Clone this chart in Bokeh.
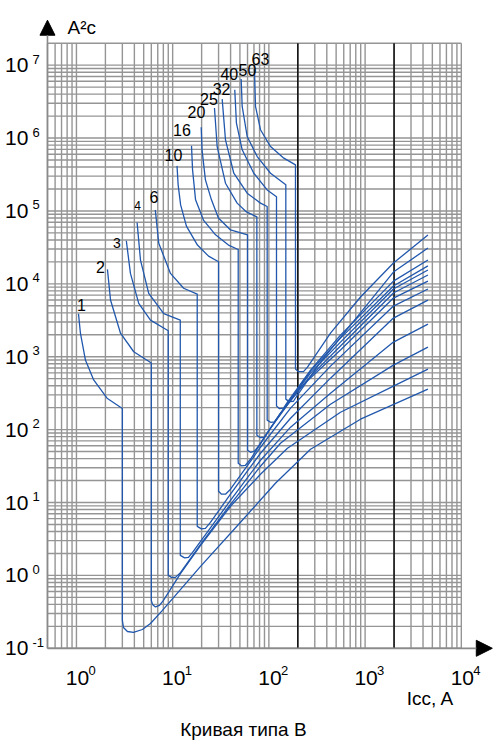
from bokeh.plotting import figure
from bokeh.models import Arrow, NormalHead, ColumnDataSource
from bokeh.core.properties import value
from bokeh.embed import file_html
from bokeh.resources import INLINE

# ---------------- data ----------------
ratings = ["1", "2", "3", "4", "6", "10", "16", "20", "25", "32", "40", "50", "63"]

# Each curve: thermal part (1 h point down to 3xIn), vertical drop, let-through I2t part
i_1 = [1.05, 1.10, 1.24, 1.51, 2.08, 3.0, 3.0, 3.08, 3.39, 3.91, 4.85, 5.88, 7.83, 19.5, 50.7, 117, 271, 896, 4500]
e_1 = [3900, 2100, 900, 480, 270, 195, 0.241, 0.193, 0.170, 0.165, 0.181, 0.219, 0.331, 1.33, 5.35, 18.4, 53.8, 139, 359]

i_2 = [2.1, 2.26, 2.87, 3.94, 6.0, 6.0, 6.17, 6.63, 7.29, 8.02, 12.1, 19.5, 39.9, 81.8, 156, 555, 1970, 4500]
e_2 = [15800, 6000, 2100, 1170, 820, 0.454, 0.400, 0.369, 0.387, 0.454, 1.065, 2.58, 8.87, 24.4, 55.5, 173, 395, 676]

i_3 = [3.3, 3.64, 4.44, 5.88, 9.0, 9.0, 9.72, 10.7, 12.1, 19.5, 39.9, 81.8, 132, 437, 1970, 4500]
e_3 = [39000, 13900, 5400, 3180, 2270, 1.0, 0.939, 0.939, 1.10, 2.67, 9.45, 31.4, 65.0, 223, 767, 1355]

i_4 = [4.27, 4.63, 5.64, 8.08, 12.0, 12.0, 13.3, 14.6, 16.1, 19.5, 39.9, 81.8, 168, 437, 1970, 4500]
e_4 = [69000, 21200, 7400, 3900, 3180, 1.88, 1.74, 1.77, 2.07, 2.93, 10.7, 38.0, 108, 316, 1588, 2805]

i_6 = [6.6, 7.17, 9.49, 13.0, 18.0, 18.0, 19.9, 21.9, 24.7, 39.9, 81.8, 168, 437, 1970, 4500]
e_6 = [103000, 36000, 13900, 8700, 7240, 4.71, 4.35, 4.42, 5.35, 13.0, 47.4, 143, 508, 3390, 5990]

i_10 = [11.1, 11.4, 12.1, 13.9, 18.1, 23.6, 30, 30, 32.2, 35.4, 39.9, 81.8, 168, 437, 1970, 4500]
e_10 = [415000, 228000, 121000, 62000, 34000, 24000, 20100, 14.3, 13.0, 13.0, 15.2, 57.3, 197, 743, 4955, 8490]

i_16 = [15.7, 16.1, 17.3, 20.9, 27.9, 38.0, 48.0, 48.0, 51.9, 57.1, 64.4, 104, 213, 555, 1970, 4500]
e_16 = [781000, 366000, 142000, 75000, 47000, 34000, 29600, 34.5, 31.9, 32.4, 39.2, 105, 382, 1233, 6380, 10900]

i_20 = [19.8, 20.2, 21.9, 25.3, 29.9, 39.9, 60, 60, 64.4, 70.8, 78.0, 132, 271, 555, 1970, 4500]
e_20 = [1410000, 689000, 267000, 142000, 80200, 54800, 46800, 52.1, 48.9, 50.5, 59.2, 168, 541, 1400, 7480, 13200]

i_25 = [27.2, 29.0, 35.4, 46.8, 58.5, 75, 75, 81.8, 90.0, 99.1, 168, 271, 555, 1970, 4500]
e_25 = [2580000, 764000, 240000, 128000, 96900, 82700, 83.8, 77.4, 78.6, 95.1, 262, 595, 1588, 8490, 15500]

i_32 = [32.7, 35.4, 43.2, 59.5, 81.8, 96, 96, 104, 114, 126, 168, 271, 555, 1970, 4500]
e_32 = [3420000, 945000, 329000, 175000, 128000, 115000, 135, 126, 128, 153, 262, 634, 1800, 9330, 17600]

i_40 = [44.2, 46.0, 52.8, 69.7, 96, 120, 120, 129, 142, 156, 271, 555, 1970, 4500]
e_40 = [4590000, 1600000, 689000, 329000, 194000, 157000, 210, 194, 197, 238, 655, 1980, 10900, 21200]

i_50 = [51.5, 52.8, 59.5, 75.6, 104, 150, 150, 162, 180, 198, 344, 705, 1970, 4500]
e_50 = [6440000, 2710000, 1050000, 557000, 329000, 228000, 262, 242, 245, 297, 843, 2718, 14500, 31000]

i_63 = [70.8, 72.6, 81.8, 104, 143, 189, 189, 203, 229, 252, 437, 896, 1970, 4500]
e_63 = [8840000, 2710000, 1300000, 764000, 530000, 428000, 676, 624, 624, 719, 2110, 6590, 19300, 46800]

# curve label anchor points (data units)
label_i = [1.127, 1.776, 2.636, 4.31, 6.39, 10.2, 12.5, 17.7, 23.8, 32.2, 38.8, 59.8, 81.8]
label_e = [5110, 17000, 36300, 117000, 156000, 588000, 1.30e6, 2.25e6, 3.40e6, 4.67e6, 7.62e6, 8.51e6, 1.21e7]

x_ticks = [1, 10, 100, 1000, 10000]
x_exps = ["0", "1", "2", "3", "4"]
y_ticks = [0.1, 1, 10, 100, 1e3, 1e4, 1e5, 1e6, 1e7]
y_exps = ["-1", "0", "1", "2", "3", "4", "5", "6", "7"]
dark_x = [200, 2000]

x_title = "Icc, A"
y_title = "A²c"
chart_title = "Кривая типа B"

# ---------------- styling / layout ----------------
W, H = 495, 742
X_MIN, X_MAX = 0.5, 1e4          # chart area (grid) limits
Y_MIN, Y_MAX = 0.1, 2e7
PX_DEC_X, PX_DEC_Y = 96.26, 72.88
M_LEFT, M_RIGHT, M_TOP, M_BOTTOM = 47, 34.2, 42.7, 94.2

FONT = "Liberation Sans"
GRID = "#959595"
CURVE = "#2158ad"

xr = (X_MIN / 10 ** (M_LEFT / PX_DEC_X), X_MAX * 10 ** (M_RIGHT / PX_DEC_X))
yr = (Y_MIN / 10 ** (M_BOTTOM / PX_DEC_Y), Y_MAX * 10 ** (M_TOP / PX_DEC_Y))

p = figure(width=W, height=H, x_axis_type="log", y_axis_type="log",
           x_range=xr, y_range=yr, output_backend="svg", toolbar_location=None,
           min_border=0, min_border_left=0, min_border_right=0, min_border_top=0, min_border_bottom=0)
p.xaxis.visible = False
p.yaxis.visible = False
p.xgrid.visible = False
p.ygrid.visible = False
p.outline_line_color = None
p.background_fill_color = "white"
p.border_fill_color = "white"

# log grid lines (1..9 per decade) limited to the chart area
gx = [m * 10.0 ** k for k in range(-1, 5) for m in range(1, 10) if X_MIN <= m * 10.0 ** k <= X_MAX * 1.0001]
gy = [m * 10.0 ** k for k in range(-1, 8) for m in range(1, 10) if Y_MIN <= m * 10.0 ** k <= Y_MAX * 1.0001]
p.segment(x0=gx, y0=[Y_MIN] * len(gx), x1=gx, y1=[Y_MAX] * len(gx), line_color=GRID, line_width=1.4)
p.segment(x0=[X_MIN] * len(gy), y0=gy, x1=[X_MAX] * len(gy), y1=gy, line_color=GRID, line_width=1.4)
p.segment(x0=dark_x, y0=[Y_MIN] * len(dark_x), x1=dark_x, y1=[Y_MAX] * len(dark_x),
          line_color="black", line_width=1.4)

curves = [(i_1, e_1), (i_2, e_2), (i_3, e_3), (i_4, e_4), (i_6, e_6), (i_10, e_10), (i_16, e_16),
          (i_20, e_20), (i_25, e_25), (i_32, e_32), (i_40, e_40), (i_50, e_50), (i_63, e_63)]
for xs, ys in curves:
    p.line(xs, ys, line_color=CURVE, line_width=1.3, line_join="round")

label_sizes = ["16px", "16px", "14px", "12px", "16px", "16px", "16px", "16px", "16px", "16px", "16px", "16px", "16px"]
src = ColumnDataSource(dict(x=label_i, y=label_e, t=ratings, s=label_sizes))
p.text(x="x", y="y", text="t", source=src, text_font=value(FONT), text_font_size="s",
       text_align="center", text_baseline="middle", text_color="black")

# axes with arrows
y_arrow_end = Y_MAX * 10 ** (23 / PX_DEC_Y)
x_arrow_end = X_MAX * 10 ** (31 / PX_DEC_X)
p.add_layout(Arrow(end=NormalHead(size=15, fill_color="black", line_color="black"),
                   x_start=X_MIN, y_start=Y_MIN, x_end=X_MIN, y_end=y_arrow_end,
                   line_color="#8a8a8a", line_width=1.6))
p.add_layout(Arrow(end=NormalHead(size=16, fill_color="black", line_color="black"),
                   x_start=X_MIN, y_start=Y_MIN, x_end=x_arrow_end, y_end=Y_MIN,
                   line_color="#8a8a8a", line_width=1.8))

# tick labels (text glyph offsets: +y is downwards)
n_y = len(y_ticks)
p.text(x=[X_MIN] * n_y, y=y_ticks, text=["10"] * n_y, x_offset=-19, text_align="right",
       text_baseline="middle", text_font=value(FONT), text_font_size="21px", text_color="black")
p.text(x=[X_MIN] * n_y, y=y_ticks, text=y_exps, x_offset=-15, y_offset=-6, text_align="left",
       text_baseline="middle", text_font=value(FONT), text_font_size="13px", text_color="black")
n_x = len(x_ticks)
p.text(x=x_ticks, y=[Y_MIN] * n_x, text=["10"] * n_x, x_offset=1, y_offset=30, text_align="center",
       text_baseline="middle", text_font=value(FONT), text_font_size="21px", text_color="black")
p.text(x=x_ticks, y=[Y_MIN] * n_x, text=x_exps, x_offset=12, y_offset=22, text_align="left",
       text_baseline="middle", text_font=value(FONT), text_font_size="13px", text_color="black")

p.text(x=[X_MAX], y=[Y_MIN], text=[x_title], x_offset=-7, y_offset=50, text_align="right",
       text_baseline="middle", text_font=value(FONT), text_font_size="19px", text_color="black")
p.text(x=[X_MIN], y=[Y_MAX], text=[y_title], x_offset=20, y_offset=-16, text_align="left",
       text_baseline="middle", text_font=value(FONT), text_font_size="19px", text_color="black")
p.text(x=[(X_MIN * X_MAX) ** 0.5], y=[Y_MIN], text=[chart_title], x_offset=-11, y_offset=81,
       text_align="center", text_baseline="middle", text_font=value(FONT), text_font_size="19px",
       text_color="black")

open("out.html", "w").write(file_html(p, INLINE))
